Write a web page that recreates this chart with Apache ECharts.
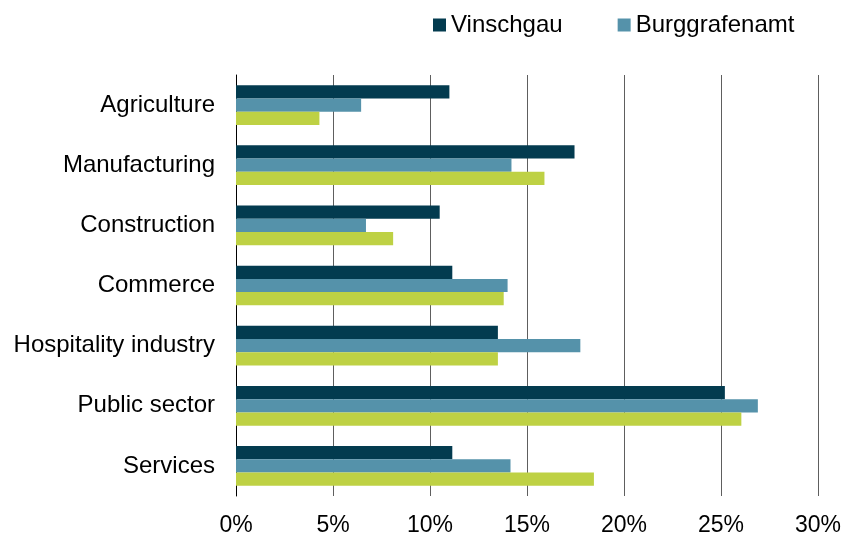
<!DOCTYPE html>
<html>
<head>
<meta charset="utf-8">
<script src="https://cdn.jsdelivr.net/npm/echarts@6/dist/echarts.min.js"></script>
<style>
html,body{margin:0;padding:0;background:#fff;}
#main{width:844px;height:537px;}
</style>
</head>
<body>
<div id="main"></div>
<script>
var categories = ['Agriculture', 'Manufacturing', 'Construction', 'Commerce', 'Hospitality industry', 'Public sector', 'Services'];
var vinschgau = [11.0, 17.45, 10.5, 11.15, 13.5, 25.2, 11.15];
var burggrafenamt = [6.45, 14.2, 6.7, 14.0, 17.75, 26.9, 14.15];
var third = [4.3, 15.9, 8.1, 13.8, 13.5, 26.05, 18.45];
var xTicks = [0, 5, 10, 15, 20, 25, 30];

var font = 'Liberation Sans, Arial, sans-serif';

var myChart = echarts.init(document.getElementById('main'));
var option = {
    animation: false,
    textStyle: {fontFamily: font},
    legend: {
        data: ['Vinschgau', 'Burggrafenamt'],
        top: 8,
        left: 428,
        itemWidth: 13,
        itemHeight: 13,
        itemGap: 55,
        icon: 'rect',
        textStyle: {fontSize: 24, color: '#000', fontFamily: font}
    },
    grid: {left: 236, right: 26, top: 75, bottom: 39, containLabel: false},
    xAxis: {
        type: 'value',
        min: xTicks[0],
        max: xTicks[xTicks.length - 1],
        interval: 5,
        axisLine: {show: false},
        axisTick: {show: false},
        axisLabel: {
            formatter: '{value}%',
            fontSize: 23,
            color: '#000',
            margin: 18,
            fontFamily: font
        },
        splitLine: {show: true, lineStyle: {color: '#5e5e5e', width: 1}}
    },
    yAxis: {
        type: 'category',
        data: categories,
        inverse: true,
        axisLine: {show: true, lineStyle: {color: '#000', width: 1}},
        axisTick: {show: false},
        axisLabel: {fontSize: 24, color: '#000', margin: 21, fontFamily: font}
    },
    series: [
        {name: 'Vinschgau', type: 'bar', data: vinschgau, barGap: '0%', barCategoryGap: '34%',
         itemStyle: {color: '#033B4F'}},
        {name: 'Burggrafenamt', type: 'bar', data: burggrafenamt, barGap: '0%', barCategoryGap: '34%',
         itemStyle: {color: '#5592AA'}},
        {name: '', type: 'bar', data: third, barGap: '0%', barCategoryGap: '34%',
         itemStyle: {color: '#BED144'}}
    ]
};
myChart.setOption(option);
</script>
</body>
</html>
